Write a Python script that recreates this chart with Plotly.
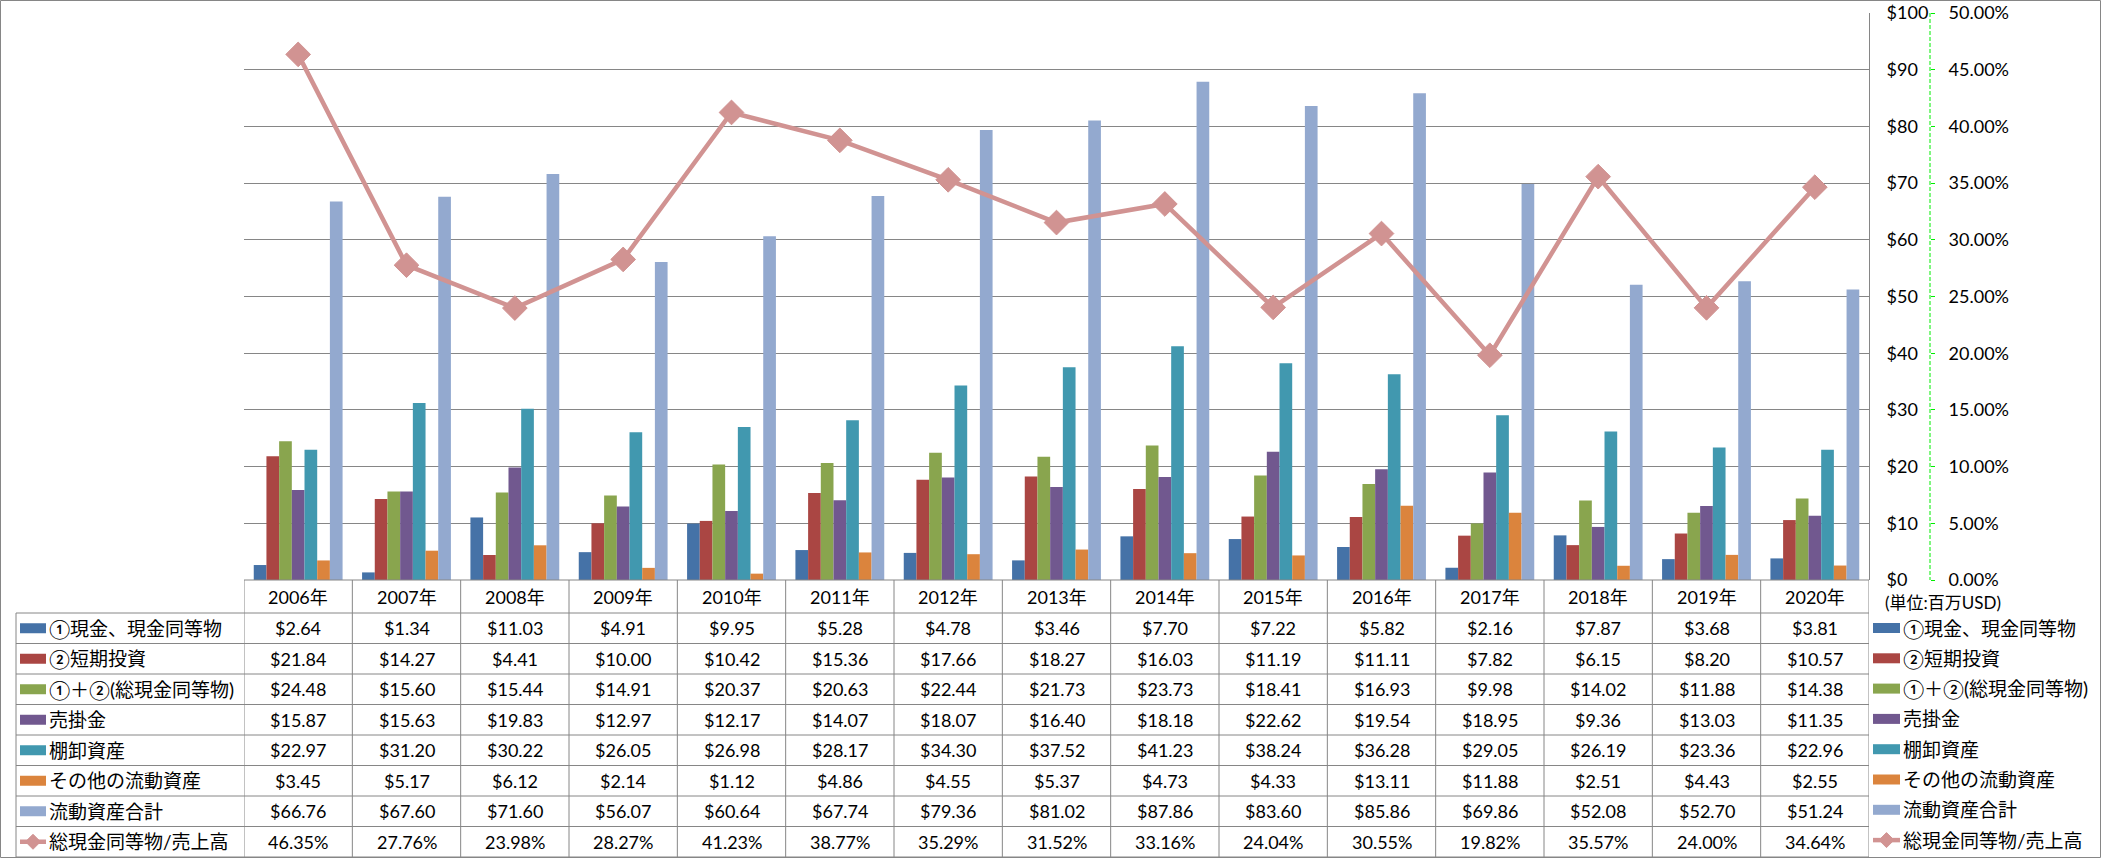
import plotly.graph_objects as go

# ---------------- data ----------------
years = ["2006年", "2007年", "2008年", "2009年", "2010年", "2011年", "2012年", "2013年",
         "2014年", "2015年", "2016年", "2017年", "2018年", "2019年", "2020年"]
cash = [2.64, 1.34, 11.03, 4.91, 9.95, 5.28, 4.78, 3.46, 7.70, 7.22, 5.82, 2.16, 7.87, 3.68, 3.81]
short_inv = [21.84, 14.27, 4.41, 10.00, 10.42, 15.36, 17.66, 18.27, 16.03, 11.19, 11.11, 7.82, 6.15, 8.20, 10.57]
total_cash = [24.48, 15.60, 15.44, 14.91, 20.37, 20.63, 22.44, 21.73, 23.73, 18.41, 16.93, 9.98, 14.02, 11.88, 14.38]
receivables = [15.87, 15.63, 19.83, 12.97, 12.17, 14.07, 18.07, 16.40, 18.18, 22.62, 19.54, 18.95, 9.36, 13.03, 11.35]
inventory = [22.97, 31.20, 30.22, 26.05, 26.98, 28.17, 34.30, 37.52, 41.23, 38.24, 36.28, 29.05, 26.19, 23.36, 22.96]
other_ca = [3.45, 5.17, 6.12, 2.14, 1.12, 4.86, 4.55, 5.37, 4.73, 4.33, 13.11, 11.88, 2.51, 4.43, 2.55]
total_ca = [66.76, 67.60, 71.60, 56.07, 60.64, 67.74, 79.36, 81.02, 87.86, 83.60, 85.86, 69.86, 52.08, 52.70, 51.24]
ratio_pct = [46.35, 27.76, 23.98, 28.27, 41.23, 38.77, 35.29, 31.52, 33.16, 24.04, 30.55, 19.82, 35.57, 24.00, 34.64]

bar_names = ["①現金、現金同等物", "②短期投資", "①＋②(総現金同等物)", "売掛金",
             "棚卸資産", "その他の流動資産", "流動資産合計"]
bar_values = [cash, short_inv, total_cash, receivables, inventory, other_ca, total_ca]
bar_colors = ["#4572A7", "#AA4643", "#89A54E", "#71588F", "#4198AF", "#DB843D", "#93A9CF"]
line_name = "総現金同等物/売上高"
line_color = "#D19392"
unit_text = "(単位:百万USD)"

# ---------------- geometry (pixels) ----------------
W, H = 2101, 858
PL, PR, PT, PB = 244, 1869, 13, 580
ROW0, ROWH = 613, 30.5
TBL_L = 16
GRID = "#868686"
FONT = "Lato, 'Noto Sans CJK JP', sans-serif"


def fx(p):
    return p / W


def fy(p):
    return 1 - p / H


fig = go.Figure()
for name, vals, col in zip(bar_names, bar_values, bar_colors):
    fig.add_trace(go.Bar(x=years, y=vals, name=name, marker=dict(color=col, line=dict(width=0))))
fig.add_trace(go.Scatter(x=years, y=ratio_pct, name=line_name, yaxis="y2", mode="lines+markers",
                         line=dict(color=line_color, width=4.5),
                         marker=dict(symbol="diamond", size=19, color=line_color,
                                     line=dict(color=line_color, width=1))))

shapes = []
annotations = []

# outer border
shapes.append(dict(type="rect", xref="paper", yref="paper", x0=fx(0.5), x1=fx(W - 0.5),
                   y0=fy(0.5), y1=fy(H - 0.5), line=dict(color=GRID, width=1)))
# green dashed secondary axis line
shapes.append(dict(type="line", xref="paper", yref="paper", x0=fx(1930), x1=fx(1930),
                   y0=fy(PT), y1=fy(PB), line=dict(color="#00EE00", width=1, dash="4px,2px")))

# table grid
n_rows = len(bar_names) + 1
for i in range(n_rows + 1):
    yy = ROW0 + i * ROWH
    shapes.append(dict(type="line", xref="paper", yref="paper", x0=fx(TBL_L), x1=fx(PR),
                       y0=fy(yy), y1=fy(yy), line=dict(color=GRID, width=1)))
shapes.append(dict(type="line", xref="paper", yref="paper", x0=fx(PL), x1=fx(PR),
                   y0=fy(PB), y1=fy(PB), line=dict(color=GRID, width=1)))
shapes.append(dict(type="line", xref="paper", yref="paper", x0=fx(TBL_L), x1=fx(TBL_L),
                   y0=fy(ROW0), y1=fy(ROW0 + n_rows * ROWH), line=dict(color=GRID, width=1)))
for k in range(len(years) + 1):
    shapes.append(dict(type="line", xref="x", yref="paper", x0=k - 0.5, x1=k - 0.5,
                       y0=fy(PB), y1=fy(ROW0 + n_rows * ROWH), line=dict(color=GRID, width=1)))

# header (years)
for yr in years:
    annotations.append(dict(x=yr, y=fy((PB + ROW0) / 2), xref="x", yref="paper", text=yr,
                            showarrow=False, xanchor="center", yanchor="middle",
                            font=dict(size=18)))

# table values
for r, vals in enumerate(bar_values):
    cy = ROW0 + ROWH * (r + 0.5)
    for yr, v in zip(years, vals):
        annotations.append(dict(x=yr, y=fy(cy), xref="x", yref="paper", text=f"${v:.2f}",
                                showarrow=False, xanchor="center", yanchor="middle",
                                font=dict(size=18)))
cy = ROW0 + ROWH * (len(bar_values) + 0.5)
for yr, v in zip(years, ratio_pct):
    annotations.append(dict(x=yr, y=fy(cy), xref="x", yref="paper", text=f"{v:.2f}%",
                            showarrow=False, xanchor="center", yanchor="middle",
                            font=dict(size=18)))


def legend_key(x0, x1, cy, color, is_line, text_x, text):
    if is_line:
        shapes.append(dict(type="line", xref="paper", yref="paper", x0=fx(x0), x1=fx(x1),
                           y0=fy(cy), y1=fy(cy), line=dict(color=color, width=4.5)))
        cx = (x0 + x1) / 2
        d = 7.5
        path = (f"M {fx(cx - d)},{fy(cy)} L {fx(cx)},{fy(cy - d)} L {fx(cx + d)},{fy(cy)} "
                f"L {fx(cx)},{fy(cy + d)} Z")
        shapes.append(dict(type="path", xref="paper", yref="paper", path=path,
                           fillcolor=color, line=dict(color=color, width=1)))
    else:
        shapes.append(dict(type="rect", xref="paper", yref="paper", x0=fx(x0), x1=fx(x1),
                           y0=fy(cy - 5), y1=fy(cy + 5), fillcolor=color, line=dict(width=0)))
    annotations.append(dict(x=fx(text_x), y=fy(cy), xref="paper", yref="paper", text=text,
                            showarrow=False, xanchor="left", yanchor="middle",
                            font=dict(size=19)))


all_names = bar_names + [line_name]
all_colors = bar_colors + [line_color]
for r, (nm, col) in enumerate(zip(all_names, all_colors)):
    is_line = r == len(bar_names)
    cy = ROW0 + ROWH * (r + 0.5)
    legend_key(20, 46, cy, col, is_line, 47, nm)
    cy2 = 628 + 30.3 * r
    legend_key(1873, 1900, cy2, col, is_line, 1901, nm)

annotations.append(dict(x=fx(1883), y=fy(602), xref="paper", yref="paper", text=unit_text,
                        showarrow=False, xanchor="left", yanchor="middle", font=dict(size=17)))

fig.update_layout(
    width=W, height=H, autosize=False,
    margin=dict(l=0, r=0, t=0, b=0, pad=0),
    plot_bgcolor="white", paper_bgcolor="white",
    barmode="group", bargap=0.18, bargroupgap=0,
    showlegend=False,
    font=dict(family=FONT, size=18, color="black"),
    xaxis=dict(domain=[fx(PL), fx(PR)], range=[-0.5, len(years) - 0.5], showticklabels=False,
               showgrid=False, zeroline=False, showline=False, ticks="", fixedrange=True),
    yaxis=dict(domain=[fy(PB), fy(PT)], range=[0, 100], dtick=10, tickprefix="$",
               side="right", showgrid=True, gridcolor=GRID, gridwidth=1, showline=True,
               linecolor=GRID, linewidth=1, zeroline=False, ticks="", ticklabelstandoff=13,
               automargin=False, tickfont=dict(size=18)),
    yaxis2=dict(overlaying="y", anchor="free", position=fx(1930), side="right",
                range=[0, 50], dtick=5, tickformat=".2f", ticksuffix="%", showgrid=False,
                zeroline=False, showline=False, ticks="outside", ticklen=4, tickwidth=1,
                tickcolor="#00EE00", ticklabelstandoff=10, automargin=False,
                tickfont=dict(size=18)),
    shapes=shapes, annotations=annotations,
)

fig.write_html("out.html", config={"displayModeBar": False},
               post_script="document.body.style.margin='0';document.body.style.padding='0';")
